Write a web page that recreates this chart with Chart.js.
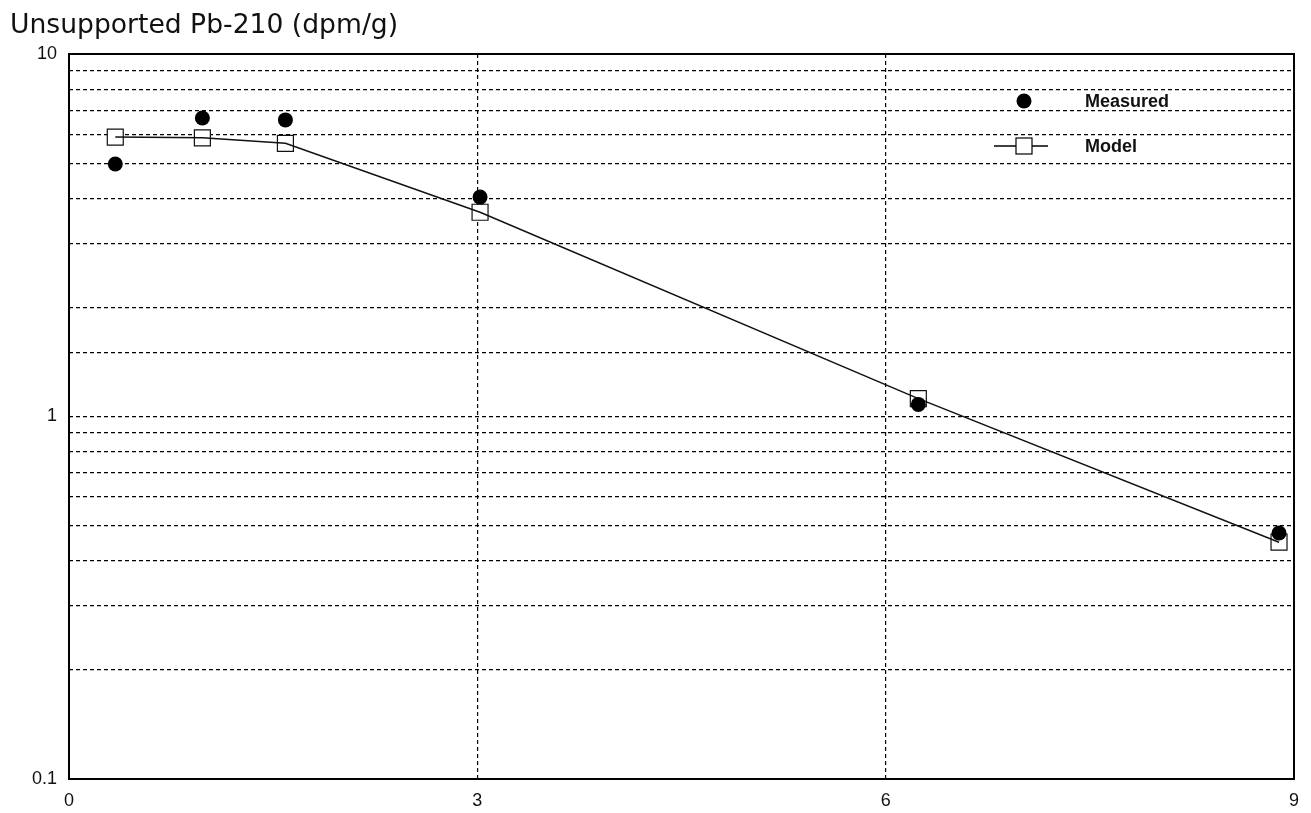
<!DOCTYPE html>
<html>
<head>
<meta charset="utf-8">
<script src="https://cdn.jsdelivr.net/npm/chart.js@4.4.1/dist/chart.umd.min.js"></script>
<style>
	html, body { margin: 0; padding: 0; background: #fff; }
	#wrap { width: 1311px; height: 813px; }
</style>
</head>
<body>
<div id="wrap"><canvas id="pbChart" width="1311" height="813"></canvas></div>
<script>
// Profundidad (x) y actividad de Pb-210 (y)
const depth = [0.34, 0.98, 1.59, 3.02, 6.24, 8.89];
const measured = [4.97, 6.66, 6.58, 4.03, 1.08, 0.477];
const model = [5.9, 5.87, 5.67, 3.66, 1.12, 0.45];
const xTicks = [0, 3, 6, 9];
const yMajor = [0.1, 1, 10];
const titleText = 'Unsupported Pb-210 (dpm/g)';
const seriesNames = ['Measured', 'Model'];

const toPoints = (ys) => depth.map((x, i) => ({ x: x, y: ys[i] }));

// Titulo, marco y leyenda dibujados a mano
const decorPlugin = {
	id: 'decor',
	afterDraw(chart) {
		const { ctx, chartArea } = chart;
		ctx.save();
		// marco
		ctx.strokeStyle = '#000';
		ctx.lineWidth = 2;
		ctx.strokeRect(chartArea.left, chartArea.top, chartArea.right - chartArea.left, chartArea.bottom - chartArea.top);

		// titulo
		ctx.fillStyle = '#111';
		ctx.font = '26.6px "DejaVu Sans"';
		ctx.textBaseline = 'alphabetic';
		ctx.textAlign = 'left';
		ctx.fillText(titleText, 10, 33);

		// leyenda
		ctx.fillStyle = '#000';
		ctx.beginPath();
		ctx.arc(1024, 101, 7.5, 0, Math.PI * 2);
		ctx.fill();

		ctx.lineWidth = 1.5;
		ctx.beginPath();
		ctx.moveTo(994, 146);
		ctx.lineTo(1048, 146);
		ctx.stroke();
		ctx.fillStyle = '#fff';
		ctx.lineWidth = 1.2;
		ctx.fillRect(1016, 138, 16, 16);
		ctx.strokeRect(1016, 138, 16, 16);

		ctx.fillStyle = '#111';
		ctx.font = 'bold 18px "Liberation Sans", Arial';
		ctx.textBaseline = 'middle';
		ctx.fillText(seriesNames[0], 1085, 102);
		ctx.fillText(seriesNames[1], 1085, 147);
		ctx.restore();
	},
};

const ctx = document.getElementById('pbChart').getContext('2d');
const myChart = new Chart(ctx, {
	type: 'scatter',
	data: {
		datasets: [
			{
				label: seriesNames[0],
				data: toPoints(measured),
				pointStyle: 'circle',
				pointRadius: 7.5,
				backgroundColor: '#000',
				borderColor: '#000',
				borderWidth: 0,
				order: 0,
			},
			{
				label: seriesNames[1] + ' line',
				data: toPoints(model),
				showLine: true,
				pointRadius: 0,
				borderColor: '#111',
				borderWidth: 1.5,
				order: 1,
			},
			{
				label: seriesNames[1],
				data: toPoints(model),
				pointStyle: 'rect',
				pointRadius: 11.3,
				backgroundColor: '#fff',
				borderColor: '#111',
				borderWidth: 1.2,
				order: 2,
			},
		],
	},
	options: {
		responsive: false,
		animation: false,
		events: [],
		layout: { padding: { top: 54, right: 17, bottom: 0, left: 0 } },
		plugins: {
			legend: { display: false },
			tooltip: { enabled: false },
			title: { display: false },
		},
		scales: {
			x: {
				type: 'linear',
				min: 0,
				max: 9,
				afterBuildTicks(axis) {
					axis.ticks = xTicks.map((v) => ({ value: v }));
				},
				afterFit(axis) {
					axis.height = 34;
				},
				ticks: {
					padding: 11,
					color: '#111',
					font: { family: '"Liberation Sans", Arial', size: 18 },
				},
				grid: { color: '#000', lineWidth: 1.2, drawTicks: false },
				border: { display: false, dash: [4, 3] },
			},
			y: {
				type: 'logarithmic',
				min: 0.1,
				max: 10,
				afterFit(axis) {
					axis.width = 69;
				},
				ticks: {
					autoSkip: false,
					padding: 12,
					color: '#111',
					font: { family: '"Liberation Sans", Arial', size: 18 },
					callback: (v) => {
						const hit = yMajor.find((m) => Math.abs(Math.log10(v) - Math.log10(m)) < 1e-6);
						return hit !== undefined ? String(hit) : '';
					},
				},
				grid: { color: '#000', lineWidth: 1.2, drawTicks: false },
				border: { display: false, dash: [4, 3] },
			},
		},
	},
	plugins: [decorPlugin],
});
</script>
</body>
</html>
